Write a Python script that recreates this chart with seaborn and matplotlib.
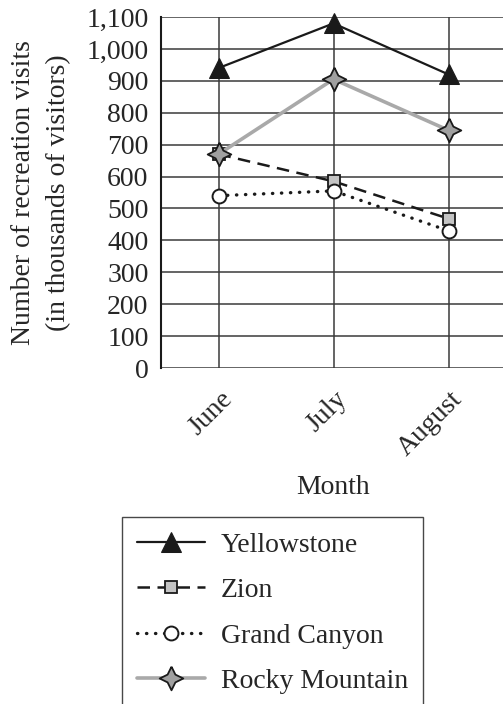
import matplotlib
matplotlib.use("Agg")
import matplotlib.pyplot as plt
import matplotlib.transforms as mtransforms
import seaborn as sns
from matplotlib.path import Path

# Data
months = ["June", "July", "August"]
yellowstone = [940, 1080, 920]
zion = [670, 585, 468]
grand_canyon = [540, 555, 430]
rocky_mountain = [670, 905, 745]

sns.set_style("white")
plt.rcParams["font.family"] = ["Liberation Serif", "DejaVu Serif"]
plt.rcParams["font.size"] = 20

# four-pointed star marker
k = 0.33
star4 = Path([(0, 1), (k, k), (1, 0), (k, -k), (0, -1),
              (-k, -k), (-1, 0), (-k, k), (0, 1)])

fig = plt.figure(figsize=(5.03, 7.04), dpi=100)
ax = fig.add_axes([161 / 503, 1 - 368 / 704, 345 / 503, 351 / 704])

x = list(range(len(months)))

sns.lineplot(x=x, y=yellowstone, ax=ax, color="#1a1a1a", lw=1.6,
             marker="^", markersize=14, markerfacecolor="#1a1a1a",
             markeredgecolor="#1a1a1a", label="Yellowstone", clip_on=False, zorder=5)
sns.lineplot(x=x, y=zion, ax=ax, color="#1a1a1a", lw=1.8,
             marker="s", markersize=9, markerfacecolor="#c4c4c4",
             markeredgecolor="#1a1a1a", markeredgewidth=1.3,
             label="Zion", clip_on=False, zorder=4)
ax.lines[-1].set_dashes([5, 3])
sns.lineplot(x=x, y=grand_canyon, ax=ax, color="#1a1a1a", lw=2.4,
             marker="o", markersize=10, markerfacecolor="white",
             markeredgecolor="#1a1a1a", markeredgewidth=1.4,
             label="Grand Canyon", clip_on=False, zorder=4)
ax.lines[-1].set_dashes([0.1, 2.6])
ax.lines[-1].set_dash_capstyle("round")
sns.lineplot(x=x, y=rocky_mountain, ax=ax, color="#a9a9a9", lw=2.6,
             marker=star4, markersize=17, markerfacecolor="#a0a0a0",
             markeredgecolor="#1a1a1a", markeredgewidth=1.3,
             label="Rocky Mountain", clip_on=False, zorder=6)

ax.set_xlim(-0.5, 2.5)
ax.set_ylim(0, 1100)
ax.set_yticks(range(0, 1101, 100))
ax.set_yticklabels([f"{v:,}" for v in range(0, 1101, 100)])
ax.set_xticks(x)
ax.set_xticklabels(months, rotation=45, ha="right", va="center",
                   rotation_mode="anchor")
ax.tick_params(axis="y", direction="inout", length=12, width=1.5,
               color="#1a1a1a", labelsize=20, pad=3)
ax.tick_params(axis="x", length=0, labelsize=20, pad=20)
shift = mtransforms.ScaledTranslation(10 / 100, 0, fig.dpi_scale_trans)
for lab in ax.get_xticklabels():
    lab.set_transform(lab.get_transform() + shift)

ax.grid(True, color="#3a3a3a", lw=1.1)
ax.set_axisbelow(True)
for s in ["top", "right", "bottom"]:
    ax.spines[s].set_visible(False)
ax.spines["left"].set_color("#1a1a1a")
ax.spines["left"].set_linewidth(1.5)

ax.set_ylabel("Number of recreation visits\n(in thousands of visitors)",
              fontsize=20, linespacing=1.5, labelpad=11)
ax.set_xlabel("Month", fontsize=20, labelpad=10)

leg = ax.legend(loc="upper left", bbox_to_anchor=(122 / 503, 1 - 517 / 704),
                bbox_transform=fig.transFigure, borderaxespad=0,
                frameon=True, fancybox=False, fontsize=20, handlelength=2.45,
                handletextpad=0.55, labelspacing=0.72, borderpad=0.55)
leg.get_frame().set_edgecolor("#1a1a1a")
leg.get_frame().set_linewidth(1.0)

fig.savefig("out.png", dpi=100)
